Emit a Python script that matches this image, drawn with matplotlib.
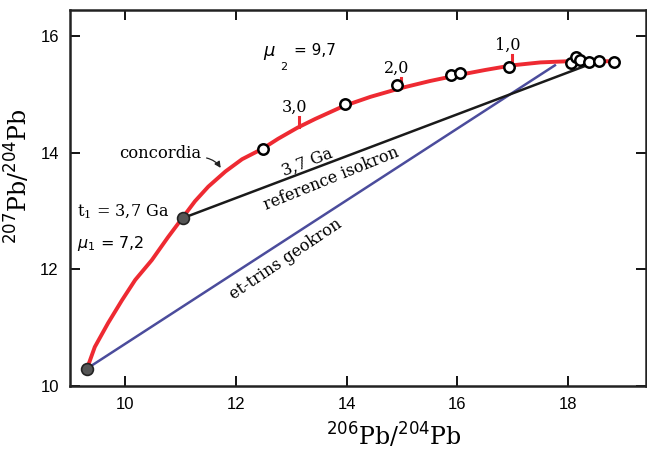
import numpy as np
import matplotlib.pyplot as plt

# concordia curve
conc_x = [9.31, 9.45, 9.69, 9.94, 10.18, 10.48, 10.77, 11.03, 11.26, 11.50, 11.81, 12.11,
          12.48, 12.76, 13.11, 13.43, 13.94, 14.43, 14.98, 15.5, 16.0, 16.5, 16.99, 17.5,
          18.0, 18.85]
conc_y = [10.30, 10.67, 11.08, 11.47, 11.82, 12.16, 12.55, 12.88, 13.17, 13.42, 13.68, 13.89,
          14.07, 14.24, 14.43, 14.58, 14.80, 14.96, 15.11, 15.23, 15.33, 15.42, 15.50, 15.55,
          15.57, 15.57]

# open circles (samples)
samp_x = [12.49, 13.96, 14.91, 15.89, 16.05, 16.93, 18.05, 18.15, 18.22, 18.38, 18.55, 18.82]
samp_y = [14.06, 14.83, 15.16, 15.33, 15.37, 15.47, 15.54, 15.64, 15.59, 15.56, 15.58, 15.56]

# filled points: start and t1
start_pt = (9.31, 10.30)
t1_pt = (11.04, 12.88)

# reference isochron and geochron end points
iso_end = (18.42, 15.53)
geo_end = (17.76, 15.50)

# age ticks along concordia
age_labels = ['3,0', '2,0', '1,0']
age_x = [13.13, 14.98, 16.99]
age_y = [14.44, 15.11, 15.50]

red = '#ee2a32'
blue = '#4b4c9c'

fig = plt.figure(figsize=(6.47, 4.51), dpi=100)
ax = fig.add_axes([0.108, 0.144, 0.890, 0.834])

ax.plot([start_pt[0], geo_end[0]], [start_pt[1], geo_end[1]], color=blue, lw=1.8, zorder=2)
ax.plot([t1_pt[0], iso_end[0]], [t1_pt[1], iso_end[1]], color='#1a1a1a', lw=1.8, zorder=2)
ax.plot(conc_x, conc_y, color=red, lw=2.8, solid_capstyle='round',
        solid_joinstyle='round', zorder=3)

for lab, x, y in zip(age_labels, age_x, age_y):
    ax.plot([x, x], [y, y + 0.17], color=red, lw=2.2, zorder=3)
    ax.text(x - 0.08, y + 0.34, lab, ha='center', va='center', fontsize=11.5,
            family='DejaVu Serif')

ax.plot(samp_x, samp_y, 'o', ms=7.5, mfc='white', mec='black', mew=1.8, zorder=4)
ax.plot([start_pt[0], t1_pt[0]], [start_pt[1], t1_pt[1]], 'o', ms=8.5,
        mfc='#555555', mec='#222222', mew=1.2, zorder=5)

ax.text(12.49, 15.71, r'$\mu$', fontsize=13, ha='left', va='center', family='DejaVu Sans')
ax.text(12.86, 15.47, '2', fontsize=8, ha='center', va='center', family='DejaVu Sans')
ax.text(13.04, 15.76, '= 9,7', fontsize=11, ha='left', va='center', family='DejaVu Sans')

ax.text(9.13, 12.98, r't$_1$ = 3,7 Ga', fontsize=11.5, ha='left', va='center',
        family='DejaVu Serif', math_fontfamily='dejavuserif')
ax.text(9.13, 12.45, r'$\mu_1$ = 7,2', fontsize=11.5, ha='left', va='center',
        family='DejaVu Sans')

ax.annotate('', xy=(11.75, 13.70), xytext=(11.42, 13.92),
            arrowprops=dict(arrowstyle='-|>', color='#222222', lw=0.9,
                            connectionstyle='arc3,rad=-0.25', mutation_scale=9))
ax.text(11.38, 13.99, 'concordia', fontsize=11.8, ha='right', va='center', family='DejaVu Serif')

ax.text(13.29, 13.84, '3,7 Ga', fontsize=11.5, ha='center', va='center', rotation=21,
        family='DejaVu Serif')
ax.text(13.72, 13.55, 'reference isokron', fontsize=11.5, ha='center', va='center',
        rotation=22, family='DejaVu Serif')
ax.text(12.89, 12.17, 'et-trins geokron', fontsize=11.5, ha='center', va='center',
        rotation=34, family='DejaVu Serif')

ax.set_xlim(9.0, 19.4)
ax.set_ylim(10.0, 16.45)
ax.set_xticks([10, 12, 14, 16, 18])
ax.set_yticks([10, 12, 14, 16])
ax.tick_params(direction='in', length=7, width=1.3, top=True, right=True,
               labelsize=12, pad=8)
for lbl in ax.get_xticklabels() + ax.get_yticklabels():
    lbl.set_family('Liberation Sans')
for s in ax.spines.values():
    s.set_linewidth(1.8)
    s.set_color('#222222')

ax.set_xlabel(r'$^{206}$Pb/$^{204}$Pb', fontsize=17, family='DejaVu Serif')
ax.set_ylabel(r'$^{207}$Pb/$^{204}$Pb', fontsize=17, family='DejaVu Serif')
ax.xaxis.set_label_coords(0.5625, -0.095)
ax.yaxis.set_label_coords(-0.064, 0.558)

fig.savefig('out.png', dpi=100)
